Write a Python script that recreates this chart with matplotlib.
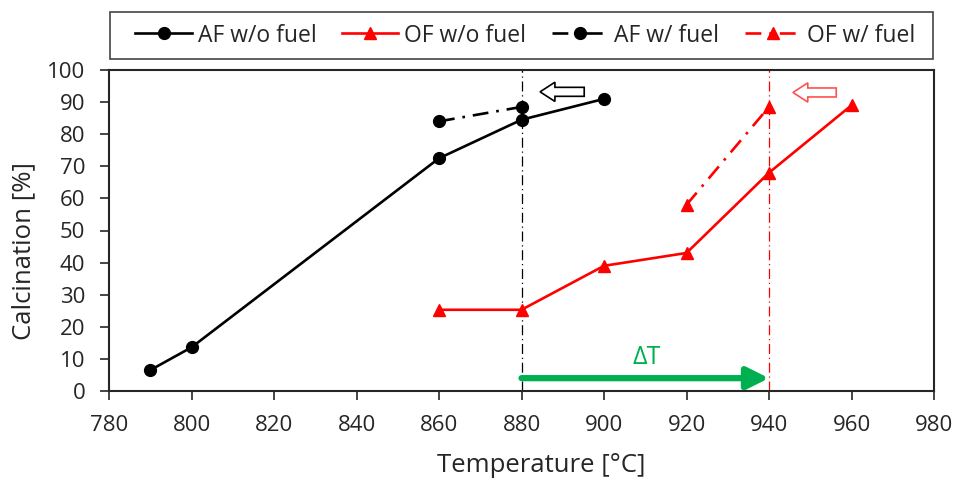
import matplotlib
matplotlib.use("Agg")
import matplotlib.pyplot as plt
from matplotlib.patches import FancyArrow, Rectangle

plt.rcParams['font.family'] = ['Open Sans', 'DejaVu Sans']

af_wo_x = [790, 800, 860, 880, 900]
af_wo_y = [6.5, 13.6, 72.5, 84.5, 91.0]
of_wo_x = [860, 880, 900, 920, 940, 960]
of_wo_y = [25.3, 25.3, 39.0, 43.0, 68.0, 89.0]
af_w_x = [860, 880]
af_w_y = [84.0, 88.5]
of_w_x = [920, 940]
of_w_y = [58.0, 88.5]
labels = ["AF w/o fuel", "OF w/o fuel", "AF w/ fuel", "OF w/ fuel"]
xticks = list(range(780, 1000, 20))
yticks = list(range(0, 110, 10))
vline_af = 880
vline_of = 940

W, H = 955, 479
fig = plt.figure(figsize=(W / 100, H / 100), dpi=100)
ax = fig.add_axes([109 / W, 1 - 391 / H, (934 - 109) / W, (391 - 70) / H])

txt = '#262626'
ax.axvline(vline_af, color='black', lw=0.9, ls=(0, (8, 3, 1, 3)), zorder=1)
ax.axvline(vline_of, color='red', lw=0.9, ls=(0, (8, 3, 1, 3)), zorder=1)

dd = (0, (6, 3, 1, 3))
l1, = ax.plot(af_wo_x, af_wo_y, color='black', lw=1.9, marker='o', ms=8.5, label=labels[0], zorder=3)
l2, = ax.plot(of_wo_x, of_wo_y, color='red', lw=1.9, marker='^', ms=9, label=labels[1], zorder=3)
l3, = ax.plot(af_w_x, af_w_y, color='black', lw=1.9, marker='o', ms=8.5, ls=dd, label=labels[2], zorder=3)
l4, = ax.plot(of_w_x, of_w_y, color='red', lw=1.9, marker='^', ms=9, ls=dd, label=labels[3], zorder=3)

# green delta T arrow
ax.annotate('', xy=(vline_of, 4), xytext=(vline_af, 4),
            arrowprops=dict(arrowstyle='-|>,head_length=1.3,head_width=0.65', color='#00B050',
                            lw=4.5, shrinkA=0, shrinkB=0))
ax.text(910.4, 10.4, 'ΔT', color='#00B050', fontsize=18, ha='center', va='center')

# hollow arrows
ax.add_patch(FancyArrow(895.2, 93.2, -10.7, 0, width=2.8, head_width=6.0, head_length=3.6,
                        length_includes_head=True, facecolor='white', edgecolor='black', lw=1.2, zorder=4))
ax.add_patch(FancyArrow(956.3, 93.0, -10.5, 0, width=2.8, head_width=6.0, head_length=3.6,
                        length_includes_head=True, facecolor='white', edgecolor='#FF5050', lw=1.2, zorder=4))

ax.set_xlim(780, 980)
ax.set_ylim(0, 100)
ax.set_xticks(xticks)
ax.set_yticks(yticks)
ax.tick_params(axis='both', labelsize=16, direction='out', length=6.5, width=1.2,
               colors=txt, pad=10.5)
for s in ax.spines.values():
    s.set_linewidth(1.5)
    s.set_color(txt)
ax.set_xlabel('Temperature [°C]', fontsize=18.5, color=txt)
ax.xaxis.set_label_coords((541 - 109) / 825, -0.193)
ax.set_ylabel('Calcination [%]', fontsize=18.5, color=txt)
ax.yaxis.set_label_coords((36 - 109) / 825, (391 - 251) / 321)

# legend frame drawn separately in figure pixels
fig.patches.append(Rectangle((110 / W, 1 - 59 / H), (933 - 110) / W, 47 / H,
                             transform=fig.transFigure, facecolor='white',
                             edgecolor='#444444', lw=1.2, zorder=0))
leg = fig.legend(handles=[l1, l2, l3, l4], loc='center', bbox_to_anchor=(525.5 / W, 1 - 35.5 / H),
                 ncol=4, fontsize=16.5, frameon=False,
                 handlelength=2.45, handletextpad=0.26, columnspacing=1.13, borderpad=0.3,
                 labelcolor=txt)

fig.savefig('out.png', dpi=100)
